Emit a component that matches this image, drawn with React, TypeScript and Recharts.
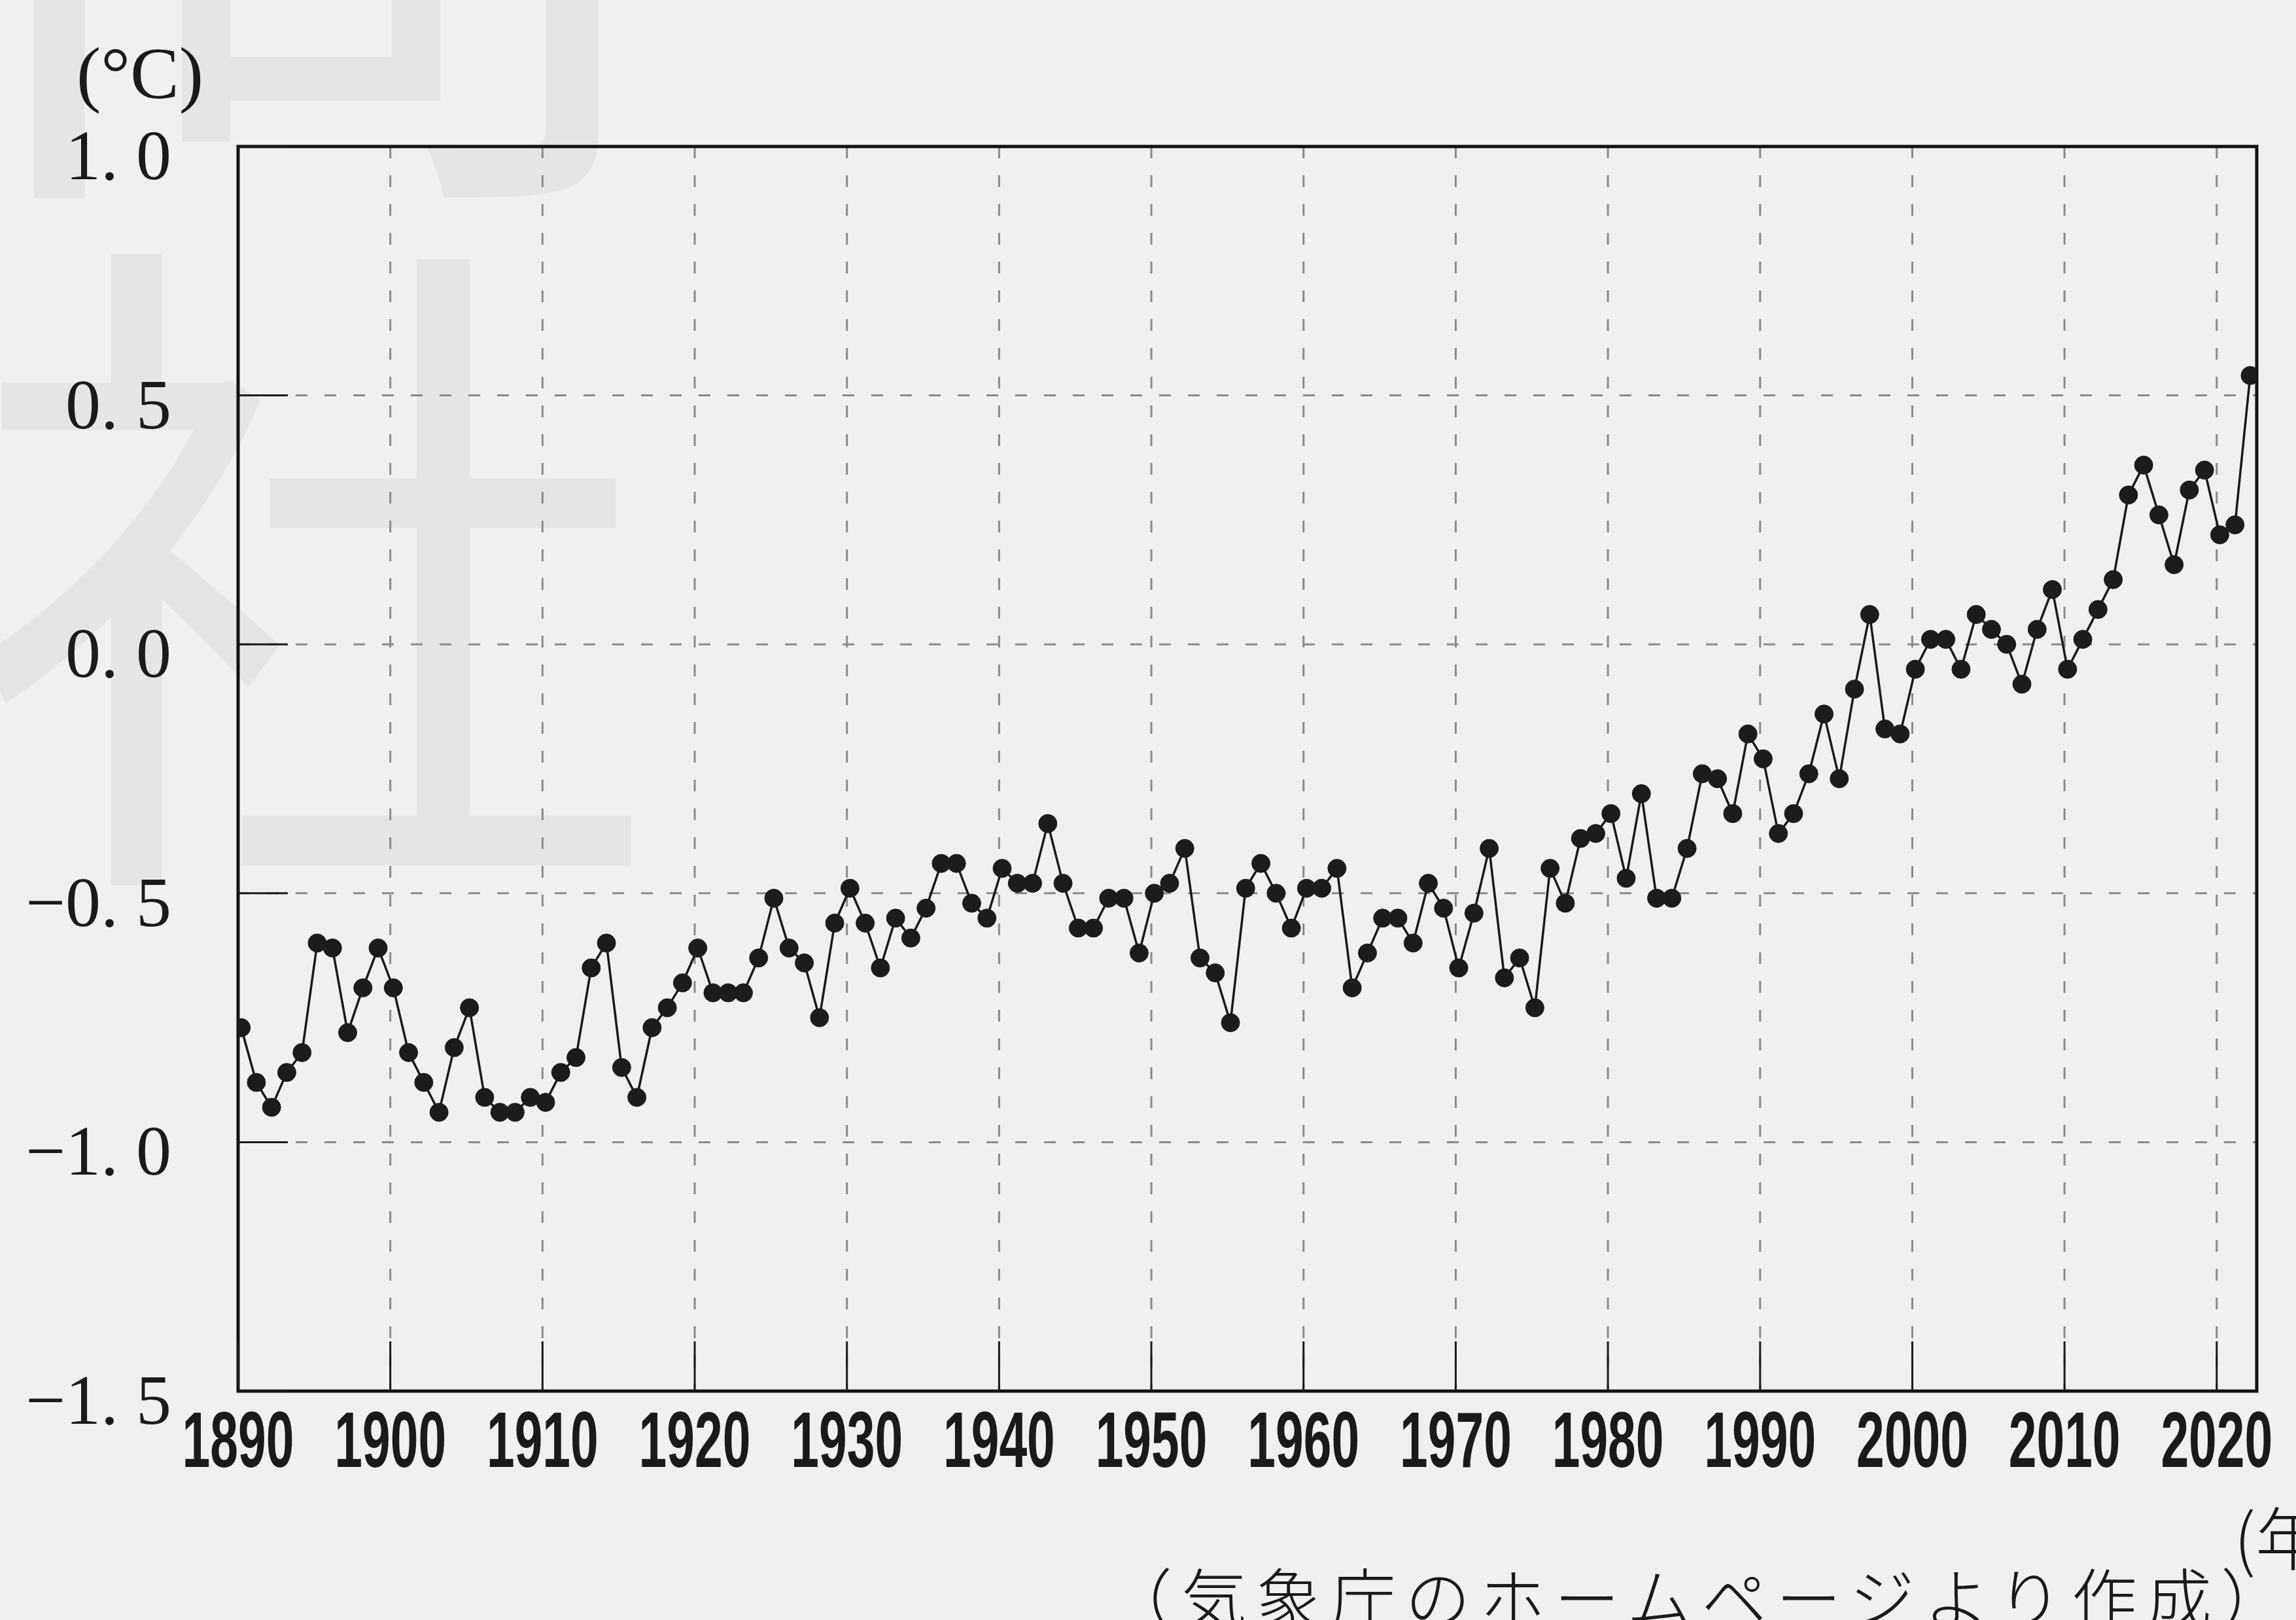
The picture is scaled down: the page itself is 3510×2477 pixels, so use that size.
import React from 'react'
import { LineChart, Line, XAxis, YAxis, CartesianGrid, ReferenceArea } from 'recharts'

// 世界の年平均気温偏差（℃）, 1891–2023
const FIRST_YEAR = 1891
const ANOMALY = [
  -0.77, -0.88, -0.93, -0.86, -0.82, -0.60, -0.61, -0.78, -0.69, -0.61,
  -0.69, -0.82, -0.88, -0.94, -0.81, -0.73, -0.91, -0.94, -0.94, -0.91,
  -0.92, -0.86, -0.83, -0.65, -0.60, -0.85, -0.91, -0.77, -0.73, -0.68,
  -0.61, -0.70, -0.70, -0.70, -0.63, -0.51, -0.61, -0.64, -0.75, -0.56,
  -0.49, -0.56, -0.65, -0.55, -0.59, -0.53, -0.44, -0.44, -0.52, -0.55,
  -0.45, -0.48, -0.48, -0.36, -0.48, -0.57, -0.57, -0.51, -0.51, -0.62,
  -0.50, -0.48, -0.41, -0.63, -0.66, -0.76, -0.49, -0.44, -0.50, -0.57,
  -0.49, -0.49, -0.45, -0.69, -0.62, -0.55, -0.55, -0.60, -0.48, -0.53,
  -0.65, -0.54, -0.41, -0.67, -0.63, -0.73, -0.45, -0.52, -0.39, -0.38,
  -0.34, -0.47, -0.30, -0.51, -0.51, -0.41, -0.26, -0.27, -0.34, -0.18,
  -0.23, -0.38, -0.34, -0.26, -0.14, -0.27, -0.09, 0.06, -0.17, -0.18,
  -0.05, 0.01, 0.01, -0.05, 0.06, 0.03, 0.00, -0.08, 0.03, 0.11,
  -0.05, 0.01, 0.07, 0.13, 0.30, 0.36, 0.26, 0.16, 0.31, 0.35,
  0.22, 0.24, 0.54,
]
const X_TICK_YEARS = [1890, 1900, 1910, 1920, 1930, 1940, 1950, 1960, 1970, 1980, 1990, 2000, 2010, 2020]
const Y_TICKS = [-1.5, -1.0, -0.5, 0, 0.5, 1.0]

// the source draws each year's point a little left of its decade label
const LABEL_SHIFT = 0.8
const X_DOMAIN = [1890 + LABEL_SHIFT, 2022.63 + LABEL_SHIFT]
const Y_DOMAIN = [-1.5, 1.0]

const data = ANOMALY.map((v, i) => ({ year: FIRST_YEAR + i, anomaly: v }))
const xTicks = X_TICK_YEARS.map((y) => y + LABEL_SHIFT)

const W = 3510
const H = 2477
const INK = '#1a1a1a'
const X_TICK_MARGIN = 116
const Y_TICK_MARGIN = 102
const TICK_LEN = 76

function XTick(props: any) {
  const { x, y, payload } = props
  const axisY = y - X_TICK_MARGIN
  const label = Math.round(payload.value - LABEL_SHIFT)
  return (
    <g>
      <line x1={x} x2={x} y1={axisY} y2={axisY - TICK_LEN} stroke={INK} strokeWidth={3} />
      <text transform={`translate(${x},${y}) scale(0.64,1)`} textAnchor="middle"
        fontFamily="'Liberation Sans', Arial, sans-serif" fontWeight="bold" fontSize={120} fill={INK}>
        {label}
      </text>
    </g>
  )
}

function YTick(props: any) {
  const { x, y, payload } = props
  const axisX = x + Y_TICK_MARGIN
  const label = Number(payload.value).toFixed(1).replace('-', '−').replace('.', '. ')
  return (
    <g>
      <line x1={axisX} x2={axisX + TICK_LEN} y1={y} y2={y} stroke={INK} strokeWidth={3} />
      <text x={x} y={y + 50} textAnchor="end" style={{ whiteSpace: 'pre' }}
        fontFamily="'Liberation Serif', 'DejaVu Serif', serif" fontSize={108} fill={INK}>
        {label}
      </text>
    </g>
  )
}

export default function App() {
  return (
    <div style={{ position: 'absolute', left: 0, top: 0, width: W, height: H, background: '#f0f0f0', overflow: 'hidden' }}>
      {/* faint publisher watermark */}
      <svg width={W} height={H} style={{ position: 'absolute', left: 0, top: 0 }}>
        <g fontFamily="'Noto Sans CJK JP', sans-serif" fontWeight={400} fill="#e5e5e5" textAnchor="middle" fontSize={1050}>
          <text x={480} y={218}>問</text>
          <text x={470} y={1270}>社</text>
        </g>
      </svg>

      <div style={{ position: 'absolute', left: 0, top: 0 }}>
        <LineChart width={W} height={H} data={data} margin={{ top: 224, right: 60, bottom: 0, left: 0 }}>
          <CartesianGrid stroke="#8a8a8a" strokeWidth={3} strokeDasharray="18 26" />
          <XAxis dataKey="year" type="number" domain={X_DOMAIN} ticks={xTicks} interval={0} allowDataOverflow
            height={350} axisLine={false} tickLine={false} tickSize={0} tickMargin={X_TICK_MARGIN} tick={<XTick />} />
          <YAxis type="number" domain={Y_DOMAIN} ticks={Y_TICKS} interval={0} allowDataOverflow
            width={364} axisLine={false} tickLine={false} tickSize={0} tickMargin={Y_TICK_MARGIN} tick={<YTick />} />
          <ReferenceArea x1={X_DOMAIN[0]} x2={X_DOMAIN[1]} y1={Y_DOMAIN[0]} y2={Y_DOMAIN[1]}
            fill="none" stroke="#111" strokeWidth={5} ifOverflow="visible" />
          <Line type="linear" dataKey="anomaly" stroke={INK} strokeWidth={3.5}
            dot={{ r: 14, fill: '#1c1c1c', stroke: '#1c1c1c', strokeWidth: 1 }} activeDot={false}
            isAnimationActive={false} />
        </LineChart>
      </div>

      <svg width={W} height={H} style={{ position: 'absolute', left: 0, top: 0, pointerEvents: 'none' }}>
        <text x={117} y={150} fontFamily="'Liberation Serif', 'DejaVu Serif', serif" fontSize={112} fill={INK}>(°C)</text>
        <text x={3415} y={2392} fontFamily="'Noto Sans CJK JP', sans-serif" fontWeight={300} fontSize={105} fill={INK}>(年)</text>
        <text x={1692} y={2482} fontFamily="'Noto Sans CJK JP', sans-serif" fontWeight={300} fontSize={100}
          letterSpacing={14} fill={INK}>（気象庁のホームページより作成）</text>
      </svg>
    </div>
  )
}
